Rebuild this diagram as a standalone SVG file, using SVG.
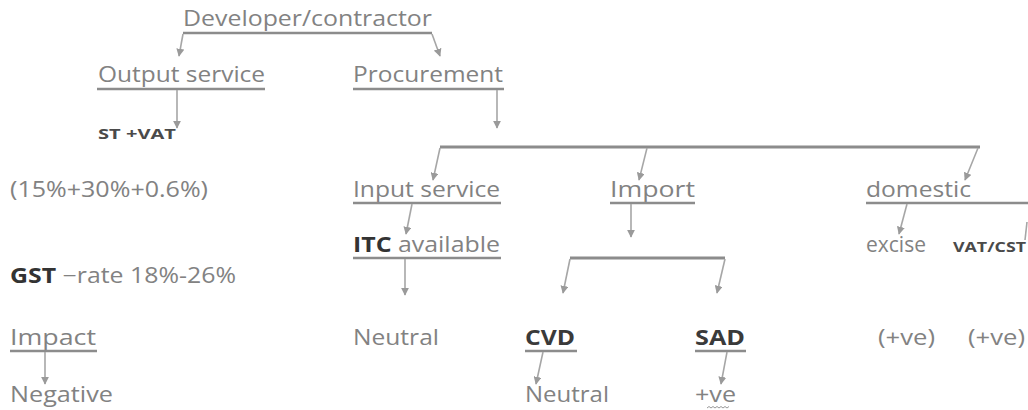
<svg xmlns="http://www.w3.org/2000/svg" width="1028" height="410" viewBox="0 0 1028 410">
  <defs>
    <marker id="arr" viewBox="0 0 10 10" refX="9" refY="5" markerWidth="8" markerHeight="8" markerUnits="userSpaceOnUse" orient="auto">
      <path d="M0,0 L10,5 L0,10 Z" fill="#9a9a9a"/>
    </marker>
  </defs>
  <style>
    text { font-family: "Open Sans", "Noto Sans", "Liberation Sans", sans-serif; }
    .t { font-size: 21px; fill: #828282; }
    .b { font-size: 21px; fill: #3a3a3a; font-weight: bold; }
    .s { font-size: 14px; fill: #4a4a4a; font-weight: bold; }
    .u { stroke: #8c8c8c; stroke-width: 2.6; fill: none; }
    .c { stroke: #a6a6a6; stroke-width: 1.6; fill: none; marker-end: url(#arr); }
    .bar { stroke: #8c8c8c; stroke-width: 3; fill: none; }
  </style>
  <rect width="1028" height="410" fill="#ffffff"/>

  <g id="developer">
    <text class="t" x="183" y="26" textLength="249" lengthAdjust="spacingAndGlyphs">Developer/contractor</text>
    <line class="u" x1="183" y1="33" x2="432" y2="33" stroke-width="2"/>
  </g>
  <g id="output-service">
    <text class="t" x="98" y="82" textLength="167" lengthAdjust="spacingAndGlyphs">Output service</text>
    <line class="u" x1="97" y1="89" x2="265" y2="89"/>
  </g>
  <g id="procurement">
    <text class="t" x="353" y="82" textLength="150" lengthAdjust="spacingAndGlyphs">Procurement</text>
    <line class="u" x1="353" y1="89" x2="504" y2="89"/>
  </g>
  <g id="st-vat">
    <text class="s" x="98" y="139" textLength="78" lengthAdjust="spacingAndGlyphs">ST +VAT</text>
  </g>
  <g id="rates">
    <text class="t" x="10" y="197" textLength="198" lengthAdjust="spacingAndGlyphs">(15%+30%+0.6%)</text>
  </g>
  <g id="gst">
    <text x="10" y="283" style="font-size:21px" textLength="226" lengthAdjust="spacingAndGlyphs"><tspan fill="#333333" font-weight="bold">GST </tspan><tspan fill="#828282">−rate 18%-26%</tspan></text>
  </g>
  <g id="impact">
    <text class="t" x="10" y="345" textLength="86" lengthAdjust="spacingAndGlyphs">Impact</text>
    <line class="u" x1="10" y1="351" x2="97" y2="351" stroke-width="2"/>
  </g>
  <g id="negative">
    <text class="t" x="10" y="402" textLength="103" lengthAdjust="spacingAndGlyphs">Negative</text>
  </g>
  <g id="input-service">
    <text class="t" x="353" y="197" textLength="147" lengthAdjust="spacingAndGlyphs">Input service</text>
    <line class="u" x1="353" y1="203" x2="501" y2="203"/>
  </g>
  <g id="itc">
    <text x="353" y="252" style="font-size:21px" textLength="147" lengthAdjust="spacingAndGlyphs"><tspan fill="#333333" font-weight="bold">ITC </tspan><tspan fill="#828282">available</tspan></text>
    <line class="u" x1="353" y1="258" x2="501" y2="258"/>
  </g>
  <g id="neutral-itc">
    <text class="t" x="353" y="345" textLength="86" lengthAdjust="spacingAndGlyphs">Neutral</text>
  </g>
  <g id="import">
    <text class="t" x="610" y="197" textLength="85" lengthAdjust="spacingAndGlyphs">Import</text>
    <line class="u" x1="610" y1="203" x2="695" y2="203"/>
  </g>
  <g id="cvd">
    <text class="b" x="525" y="345" textLength="50" lengthAdjust="spacingAndGlyphs">CVD</text>
    <line class="u" x1="525" y1="351" x2="577" y2="351"/>
  </g>
  <g id="sad">
    <text class="b" x="695" y="345" textLength="50" lengthAdjust="spacingAndGlyphs">SAD</text>
    <line class="u" x1="695" y1="351" x2="746" y2="351"/>
  </g>
  <g id="neutral-cvd">
    <text class="t" x="525" y="402" textLength="84" lengthAdjust="spacingAndGlyphs">Neutral</text>
  </g>
  <g id="positive-sad">
    <text class="t" x="695" y="402" textLength="41" lengthAdjust="spacingAndGlyphs">+ve</text>
    <path d="M707,408 l2,-1.5 l2,1.5 l2,-1.5 l2,1.5 l2,-1.5 l2,1.5 l2,-1.5 l2,1.5 l2,-1.5 l2,1.5 l2,-1.5" stroke="#9a9a9a" stroke-width="1" fill="none"/>
  </g>
  <g id="domestic">
    <text class="t" x="866" y="197" textLength="105" lengthAdjust="spacingAndGlyphs">domestic</text>
    <line class="u" x1="866" y1="203" x2="1028" y2="203"/>
  </g>
  <g id="excise">
    <text class="t" x="866" y="252" textLength="60" lengthAdjust="spacingAndGlyphs">excise</text>
  </g>
  <g id="vat-cst">
    <text class="s" x="953" y="252" textLength="73" lengthAdjust="spacingAndGlyphs">VAT/CST</text>
  </g>
  <g id="excise-effect">
    <text class="t" x="878" y="345" textLength="57" lengthAdjust="spacingAndGlyphs">(+ve)</text>
  </g>
  <g id="vat-effect">
    <text class="t" x="968" y="345" textLength="57" lengthAdjust="spacingAndGlyphs">(+ve)</text>
  </g>

  <g id="connectors">
    <line class="c" x1="183" y1="34" x2="179" y2="56"/>
    <line class="c" x1="432" y1="34" x2="440" y2="56"/>
    <line class="c" x1="177" y1="90" x2="177" y2="128"/>
    <line class="c" x1="497" y1="90" x2="497" y2="128"/>
    <line class="bar" x1="440" y1="147" x2="980" y2="147"/>
    <line class="c" x1="440" y1="148" x2="433" y2="180"/>
    <line class="c" x1="647" y1="148" x2="639" y2="180"/>
    <line class="c" x1="978" y1="148" x2="965" y2="180"/>
    <line class="c" x1="412" y1="204" x2="406" y2="234"/>
    <line class="c" x1="631" y1="204" x2="631" y2="237"/>
    <line class="c" x1="907" y1="204" x2="899" y2="234"/>
    <line stroke="#a6a6a6" stroke-width="1.6" x1="1027" y1="222" x2="1025" y2="240"/>
    <line class="c" x1="405" y1="259" x2="405" y2="295"/>
    <line class="bar" x1="570" y1="258" x2="725" y2="258"/>
    <line class="c" x1="570" y1="259" x2="563" y2="293"/>
    <line class="c" x1="725" y1="259" x2="717" y2="293"/>
    <line class="c" x1="45" y1="352" x2="45" y2="384"/>
    <line class="c" x1="543" y1="352" x2="536" y2="384"/>
    <line class="c" x1="727" y1="352" x2="721" y2="384"/>
  </g>
</svg>
